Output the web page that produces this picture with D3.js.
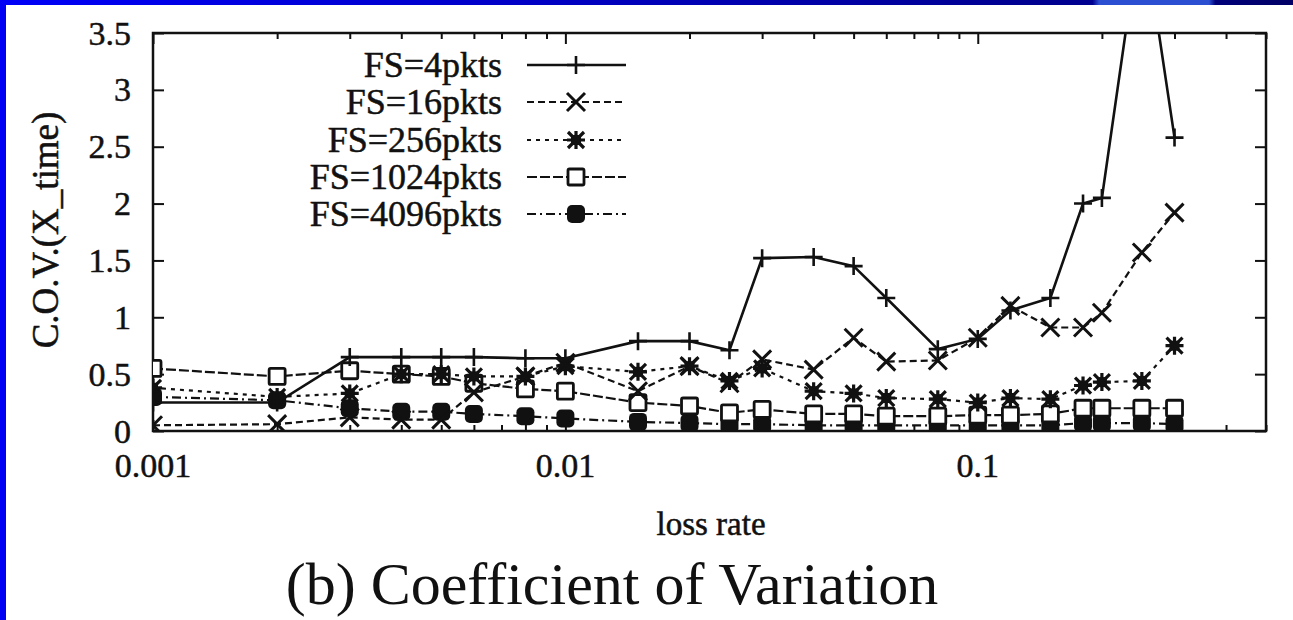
<!DOCTYPE html>
<html>
<head>
<meta charset="utf-8">
<script src="https://cdn.jsdelivr.net/npm/d3@7"></script>
<style>
html,body{margin:0;padding:0;background:#fff;}
svg{display:block;}
</style>
</head>
<body>
<svg id="chart" width="1293" height="620"></svg>
<script>
// ---- data ----
const lossRates = [0.001,0.002,0.003,0.004,0.005,0.006,0.008,0.01,0.015,0.02,0.025,0.03,0.04,0.05,0.06,0.08,0.1,0.12,0.15,0.18,0.2,0.25,0.3];
const seriesNames = ["FS=4pkts","FS=16pkts","FS=256pkts","FS=1024pkts","FS=4096pkts"];
const fs4    = [0.25,0.25,0.65,0.65,0.65,0.65,0.64,0.64,0.79,0.79,0.71,1.52,1.53,1.45,1.17,0.72,0.81,1.06,1.17,2.0,2.05,4.5,2.58];
const fs16   = [0.05,0.06,0.12,0.10,0.10,0.34,0.48,0.60,0.35,0.57,0.42,0.63,0.54,0.82,0.61,0.62,0.82,1.10,0.91,0.91,1.04,1.57,1.92];
const fs256  = [0.38,0.30,0.33,0.50,0.50,0.48,0.48,0.57,0.52,0.57,0.44,0.55,0.35,0.33,0.29,0.28,0.25,0.29,0.28,0.40,0.43,0.44,0.75];
const fs1024 = [0.55,0.48,0.53,0.50,0.48,0.42,0.37,0.35,0.25,0.22,0.16,0.19,0.15,0.15,0.13,0.13,0.14,0.14,0.15,0.20,0.20,0.20,0.20];
const fs4096 = [0.30,0.27,0.20,0.17,0.17,0.15,0.13,0.11,0.08,0.07,0.06,0.06,0.05,0.05,0.05,0.05,0.05,0.05,0.05,0.07,0.07,0.07,0.06];
const xTickLabels = ["0.001","0.01","0.1"];
const yTickLabels = ["0","0.5","1","1.5","2","2.5","3","3.5"];
const xTitle = "loss rate";
const yTitle = "C.O.V.(X_time)";
const caption = "(b) Coefficient of Variation";

const FONT = "Liberation Serif";

// ---- layout ----
const svg = d3.select("#chart").style("font-family", FONT);
const L = 153, R = 1266, T = 33, B = 431;

svg.append("rect").attr("x",0).attr("y",0).attr("width",1293).attr("height",620).attr("fill","#fff");

const x = d3.scaleLog().domain([0.001,0.5]).range([L,R]);
const y = d3.scaleLinear().domain([0,3.5]).range([B,T]);

function txt(sel){ return sel.style("font-family", FONT).attr("fill","#111").attr("stroke","#111").attr("stroke-width",0.5); }

// titles
txt(svg.append("text")).attr("x",711).attr("y",535).attr("text-anchor","middle")
  .style("font-size","33px").text(xTitle);
txt(svg.append("text")).attr("transform","translate(58,230) rotate(-90)").attr("text-anchor","middle")
  .style("font-size","37px").text(yTitle);
svg.append("text").style("font-family",FONT).attr("fill","#111").attr("x",612).attr("y",604).attr("text-anchor","middle")
  .style("font-size","60px").text(caption);

// legend texts
const seriesData = [fs4,fs16,fs256,fs1024,fs4096];
const dashes = [null,"7,4","4,5","10,3","9,4,2,4"];
const legY = [65,102,140,177,214];
seriesNames.forEach((n,i)=>{
  txt(svg.append("text")).attr("x",502).attr("y",legY[i]).attr("dy","0.33em").attr("text-anchor","end")
    .style("font-size","36px").text(n);
});

// tick labels
xTickLabels.forEach((t)=>{
  txt(svg.append("text")).attr("x",x(+t)).attr("y",B+46).attr("text-anchor","middle").style("font-size","34px").text(t);
});
yTickLabels.forEach((t)=>{
  txt(svg.append("text")).attr("x",L-22).attr("y",y(+t)).attr("dy","0.34em").attr("text-anchor","end").style("font-size","34px").text(t);
});

// slide decorations
const defs = svg.append("defs");
const grad = defs.append("linearGradient").attr("id","topbar").attr("x1","0").attr("x2","1").attr("y1","0").attr("y2","0");
[[0,"#0000f8"],[0.45,"#0000c0"],[0.8,"#000090"],[0.845,"#000090"],[0.85,"#2c4fd2"],[0.935,"#2c4fd2"],[0.94,"#00007a"],[1,"#000066"]]
  .forEach(([o,c])=>grad.append("stop").attr("offset",o).attr("stop-color",c));
svg.append("rect").attr("x",0).attr("y",0).attr("width",1293).attr("height",5).attr("fill","url(#topbar)");
svg.append("rect").attr("x",0).attr("y",0).attr("width",6).attr("height",620).attr("fill","#0000f4");
defs.append("clipPath").attr("id","plotclip").append("rect")
  .attr("x",L).attr("y",T).attr("width",R-L).attr("height",B-T);

// ticks (gnuplot style: inward on all four sides)
const majorX = xTickLabels.map(Number);
const minorX = [];
[0.001,0.01,0.1].forEach(d=>{for(let k=2;k<=9;k++){const v=d*k; if(v<=0.5) minorX.push(v);}});
const yVals = yTickLabels.map(Number);
svg.append("g").attr("transform",`translate(0,${B})`).call(d3.axisBottom(x).tickValues(majorX).tickFormat("").tickSize(-11));
svg.append("g").attr("transform",`translate(0,${B})`).call(d3.axisBottom(x).tickValues(minorX).tickFormat("").tickSize(-6));
svg.append("g").attr("transform",`translate(0,${T})`).call(d3.axisTop(x).tickValues(majorX).tickFormat("").tickSize(-11));
svg.append("g").attr("transform",`translate(0,${T})`).call(d3.axisTop(x).tickValues(minorX).tickFormat("").tickSize(-6));
svg.append("g").attr("transform",`translate(${L},0)`).call(d3.axisLeft(y).tickValues(yVals).tickFormat("").tickSize(-11));
svg.append("g").attr("transform",`translate(${R},0)`).call(d3.axisRight(y).tickValues(yVals).tickFormat("").tickSize(-11));
svg.selectAll(".domain").remove();
svg.selectAll(".tick text").remove();
svg.selectAll(".tick line").attr("stroke","#111").attr("stroke-width",2);

// frame
svg.append("rect").attr("x",L).attr("y",T).attr("width",R-L).attr("height",B-T)
  .attr("fill","none").attr("stroke","#111").attr("stroke-width",2.5);

// ---- series ----
const line = d3.line().x((d,i)=>x(lossRates[i])).y(d=>y(d));
const plot = svg.append("g").attr("clip-path","url(#plotclip)");

function marker(g, type, cx, cy){
  const s = 9;
  if(type===0){
    g.append("path").attr("d",`M${cx-s},${cy}H${cx+s}M${cx},${cy-s}V${cy+s}`).attr("stroke","#111").attr("stroke-width",2.6).attr("fill","none");
  } else if(type===1){
    g.append("path").attr("d",`M${cx-s},${cy-s}L${cx+s},${cy+s}M${cx-s},${cy+s}L${cx+s},${cy-s}`).attr("stroke","#111").attr("stroke-width",3).attr("fill","none");
  } else if(type===2){
    const t=8;
    g.append("path").attr("d",`M${cx-t},${cy-t}L${cx+t},${cy+t}M${cx-t},${cy+t}L${cx+t},${cy-t}M${cx-t-1},${cy}H${cx+t+1}M${cx},${cy-t-1}V${cy+t+1}`).attr("stroke","#111").attr("stroke-width",3.2).attr("fill","none");
    g.append("rect").attr("x",cx-5).attr("y",cy-5).attr("width",10).attr("height",10).attr("fill","#111");
  } else if(type===3){
    g.append("rect").attr("x",cx-8).attr("y",cy-8).attr("width",16).attr("height",16).attr("rx",1.5).attr("fill","#fff").attr("stroke","#111").attr("stroke-width",2.8);
  } else {
    g.append("rect").attr("x",cx-9).attr("y",cy-9).attr("width",18).attr("height",18).attr("rx",5).attr("fill","#111");
  }
}

for(let si=seriesData.length-1; si>=0; si--){
  const vals = seriesData[si];
  plot.append("path").datum(vals).attr("d",line).attr("fill","none").attr("stroke","#111")
    .attr("stroke-width",si===0?2.6:2.2).attr("stroke-dasharray",dashes[si]);
  const mg = plot.append("g");
  vals.forEach((v,i)=>marker(mg, si, x(lossRates[i]), y(v)));
}

const lg = svg.append("g");
seriesNames.forEach((n,i)=>{
  lg.append("line").attr("x1",527).attr("x2",626).attr("y1",legY[i]).attr("y2",legY[i])
    .attr("stroke","#111").attr("stroke-width",i===0?2.6:2.2).attr("stroke-dasharray",dashes[i]);
  marker(lg, i, 576, legY[i]);
});
</script>
</body>
</html>
